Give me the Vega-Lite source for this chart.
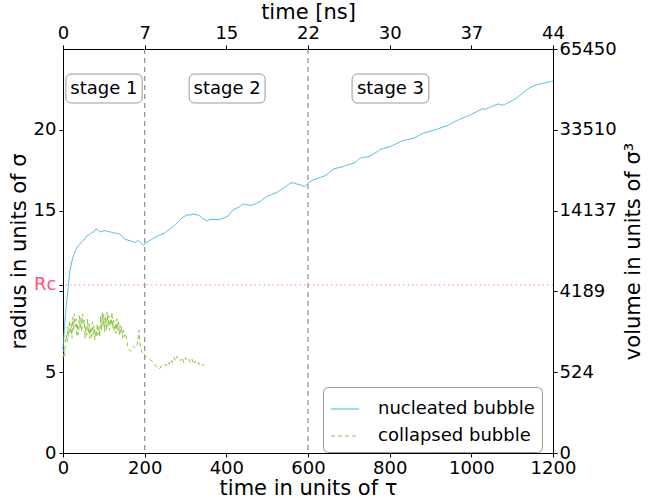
{
  "$schema": "https://vega.github.io/schema/vega-lite/v6.json",
  "width": 490,
  "height": 404,
  "autosize": {"type": "none"},
  "padding": {"left": 63, "top": 49, "right": 95, "bottom": 45},
  "background": "white",
  "config": {
    "font": "DejaVu Sans",
    "view": {"stroke": null},
    "axis": {"labelFont": "DejaVu Sans", "titleFont": "DejaVu Sans", "labelFontSize": 18, "titleFontSize": 21, "titleFontWeight": "normal", "labelColor": "black", "titleColor": "black", "domainColor": "black", "tickColor": "black", "grid": false, "labelOverlap": false, "labelFlush": false, "labelBound": false, "tickSize": 4}
  },
  "datasets": {
    "nucleated": [
      {"t":0,"r":6.4},{"t":3,"r":7.5},{"t":6,"r":8.6},{"t":10,"r":9.6},{"t":14,"r":10.6},{"t":17,"r":11.3},{"t":21,"r":11.8},{"t":25,"r":12.15},{"t":29,"r":12.45},{"t":33,"r":12.67},{"t":40,"r":12.9},{"t":46,"r":13.08},{"t":52,"r":13.2},{"t":58,"r":13.43},{"t":64,"r":13.5},{"t":70,"r":13.63},{"t":76,"r":13.7},{"t":81,"r":13.88},{"t":86,"r":13.78},{"t":90,"r":13.68},{"t":96,"r":13.74},{"t":103,"r":13.76},{"t":110,"r":13.7},{"t":117,"r":13.68},{"t":123,"r":13.63},{"t":130,"r":13.6},{"t":139,"r":13.55},{"t":146,"r":13.4},{"t":152,"r":13.22},{"t":158,"r":13.18},{"t":164,"r":13.14},{"t":170,"r":13.08},{"t":176,"r":13.01},{"t":180,"r":13.1},{"t":184,"r":13.14},{"t":190,"r":13.0},{"t":197,"r":12.87},{"t":203,"r":13.0},{"t":209,"r":13.08},{"t":216,"r":13.2},{"t":222,"r":13.3},{"t":229,"r":13.39},{"t":236,"r":13.48},{"t":243,"r":13.55},{"t":250,"r":13.63},{"t":257,"r":13.78},{"t":264,"r":13.9},{"t":270,"r":14.0},{"t":278,"r":14.2},{"t":286,"r":14.42},{"t":292,"r":14.55},{"t":299,"r":14.67},{"t":306,"r":14.75},{"t":312,"r":14.72},{"t":319,"r":14.79},{"t":327,"r":14.74},{"t":335,"r":14.67},{"t":343,"r":14.5},{"t":352,"r":14.37},{"t":360,"r":14.45},{"t":368,"r":14.46},{"t":376,"r":14.44},{"t":384,"r":14.46},{"t":394,"r":14.55},{"t":405,"r":14.67},{"t":411,"r":14.9},{"t":417,"r":15.04},{"t":425,"r":15.15},{"t":433,"r":15.25},{"t":441,"r":15.41},{"t":449,"r":15.38},{"t":457,"r":15.33},{"t":466,"r":15.35},{"t":474,"r":15.45},{"t":482,"r":15.55},{"t":490,"r":15.7},{"t":499,"r":15.87},{"t":507,"r":15.95},{"t":515,"r":16.05},{"t":523,"r":16.11},{"t":531,"r":16.25},{"t":539,"r":16.38},{"t":547,"r":16.52},{"t":556,"r":16.69},{"t":564,"r":16.72},{"t":572,"r":16.65},{"t":580,"r":16.6},{"t":586,"r":16.55},{"t":592,"r":16.48},{"t":597,"r":16.6},{"t":601,"r":16.73},{"t":609,"r":16.85},{"t":617,"r":16.94},{"t":625,"r":17.0},{"t":633,"r":17.08},{"t":641,"r":17.14},{"t":650,"r":17.3},{"t":656,"r":17.45},{"t":662,"r":17.56},{"t":670,"r":17.62},{"t":678,"r":17.68},{"t":686,"r":17.72},{"t":694,"r":17.8},{"t":702,"r":17.86},{"t":711,"r":17.93},{"t":719,"r":18.05},{"t":727,"r":18.24},{"t":735,"r":18.28},{"t":743,"r":18.32},{"t":752,"r":18.38},{"t":760,"r":18.5},{"t":768,"r":18.62},{"t":776,"r":18.77},{"t":785,"r":18.85},{"t":793,"r":18.9},{"t":801,"r":18.95},{"t":809,"r":19.05},{"t":817,"r":19.15},{"t":825,"r":19.25},{"t":833,"r":19.33},{"t":841,"r":19.38},{"t":850,"r":19.43},{"t":858,"r":19.47},{"t":866,"r":19.58},{"t":874,"r":19.68},{"t":882,"r":19.78},{"t":890,"r":19.85},{"t":898,"r":19.9},{"t":907,"r":19.97},{"t":915,"r":20.03},{"t":923,"r":20.1},{"t":931,"r":20.18},{"t":940,"r":20.24},{"t":948,"r":20.35},{"t":956,"r":20.46},{"t":964,"r":20.56},{"t":972,"r":20.65},{"t":980,"r":20.74},{"t":988,"r":20.83},{"t":997,"r":20.92},{"t":1005,"r":21.02},{"t":1013,"r":21.12},{"t":1021,"r":21.22},{"t":1027,"r":21.3},{"t":1033,"r":21.27},{"t":1041,"r":21.35},{"t":1050,"r":21.45},{"t":1058,"r":21.52},{"t":1066,"r":21.6},{"t":1072,"r":21.55},{"t":1078,"r":21.53},{"t":1086,"r":21.62},{"t":1094,"r":21.73},{"t":1103,"r":21.84},{"t":1111,"r":21.98},{"t":1119,"r":22.13},{"t":1127,"r":22.3},{"t":1135,"r":22.45},{"t":1143,"r":22.6},{"t":1152,"r":22.71},{"t":1160,"r":22.78},{"t":1168,"r":22.83},{"t":1176,"r":22.88},{"t":1184,"r":22.93},{"t":1192,"r":22.97},{"t":1200,"r":23.02}
    ],
    "collapsed": [
      {"t":0,"r":5.9},{"t":2,"r":6.4},{"t":4,"r":6.0},{"t":6,"r":6.9},{"t":8,"r":7.3},{"t":10,"r":6.9},{"t":12,"r":7.8},{"t":14,"r":7.2},{"t":16,"r":8.2},{"t":18,"r":7.4},{"t":20,"r":8.0},{"t":22,"r":7.1},{"t":24,"r":8.4},{"t":26,"r":7.6},{"t":28,"r":8.6},{"t":30,"r":7.8},{"t":32,"r":8.3},{"t":34,"r":7.2},{"t":36,"r":8.0},{"t":38,"r":7.3},{"t":40,"r":8.5},{"t":42,"r":7.7},{"t":44,"r":8.4},{"t":46,"r":7.5},{"t":48,"r":8.6},{"t":50,"r":7.9},{"t":52,"r":8.2},{"t":54,"r":7.1},{"t":56,"r":7.9},{"t":58,"r":7.3},{"t":60,"r":8.3},{"t":62,"r":7.4},{"t":64,"r":8.0},{"t":66,"r":7.1},{"t":68,"r":7.8},{"t":70,"r":7.2},{"t":72,"r":8.1},{"t":74,"r":7.3},{"t":76,"r":7.9},{"t":78,"r":7.0},{"t":80,"r":7.6},{"t":82,"r":7.2},{"t":84,"r":8.0},{"t":86,"r":7.3},{"t":88,"r":7.8},{"t":90,"r":7.2},{"t":92,"r":8.5},{"t":94,"r":7.6},{"t":96,"r":8.7},{"t":98,"r":7.8},{"t":100,"r":8.6},{"t":102,"r":7.5},{"t":104,"r":8.4},{"t":106,"r":7.6},{"t":108,"r":8.7},{"t":110,"r":7.8},{"t":112,"r":8.5},{"t":114,"r":7.6},{"t":116,"r":8.3},{"t":118,"r":7.9},{"t":120,"r":8.7},{"t":122,"r":7.7},{"t":124,"r":8.2},{"t":126,"r":7.5},{"t":128,"r":8.0},{"t":130,"r":7.4},{"t":132,"r":8.3},{"t":134,"r":7.6},{"t":136,"r":8.1},{"t":138,"r":7.3},{"t":140,"r":7.9},{"t":142,"r":7.4},{"t":144,"r":7.8},{"t":146,"r":7.1},{"t":148,"r":7.6},{"t":150,"r":7.2},{"t":154,"r":7.4},{"t":158,"r":6.6},{"t":162,"r":6.4},{"t":166,"r":6.3},{"t":170,"r":6.5},{"t":174,"r":6.6},{"t":178,"r":6.5},{"t":182,"r":6.7},{"t":186,"r":7.6},{"t":188,"r":6.9},{"t":190,"r":6.5},{"t":194,"r":6.2},{"t":198,"r":6.2},{"t":202,"r":6.0},{"t":206,"r":5.9},{"t":212,"r":5.8},{"t":218,"r":5.7},{"t":224,"r":5.5},{"t":230,"r":5.3},{"t":236,"r":5.2},{"t":242,"r":5.4},{"t":248,"r":5.5},{"t":252,"r":5.4},{"t":256,"r":5.6},{"t":260,"r":5.5},{"t":264,"r":5.8},{"t":268,"r":5.6},{"t":272,"r":5.9},{"t":276,"r":5.7},{"t":280,"r":6.0},{"t":284,"r":5.8},{"t":288,"r":5.7},{"t":292,"r":5.9},{"t":296,"r":5.6},{"t":300,"r":5.9},{"t":304,"r":5.7},{"t":308,"r":5.8},{"t":312,"r":5.6},{"t":316,"r":5.8},{"t":320,"r":5.5},{"t":324,"r":5.7},{"t":328,"r":5.5},{"t":332,"r":5.6},{"t":336,"r":5.4},{"t":340,"r":5.5},{"t":344,"r":5.4},{"t":348,"r":5.5},{"t":352,"r":5.5}
    ]
  },
  "layer": [
    {
      "data": {"values": [{"t": 200}, {"t": 600}]},
      "mark": {"type": "rule", "color": "#8c8c8c", "strokeDash": [5, 4], "strokeWidth": 1.2},
      "encoding": {
        "x": {"field": "t", "type": "quantitative", "scale": {"domain": [0, 1200], "nice": false, "zero": false},
          "axis": {"orient": "top", "title": "time [ns]", "values": [0, 200, 400, 600, 800, 1000, 1200],
            "labelExpr": "datum.value==0?'0':datum.value==200?'7':datum.value==400?'15':datum.value==600?'22':datum.value==800?'30':datum.value==1000?'37':'44'",
            "labelPadding": 3, "titlePadding": 2}}
      }
    },
    {
      "data": {"values": [{"r": 10.4}]},
      "mark": {"type": "rule", "color": "#ff9db4", "strokeDash": [1.5, 3], "strokeWidth": 1.2},
      "encoding": {
        "y": {"field": "r", "type": "quantitative", "scale": {"domain": [0, 25], "nice": false, "zero": false},
          "axis": {"orient": "right", "title": "volume in units of σ³", "titleAngle": 270, "titleBaseline": "top", "values": [0, 5, 10, 15, 20, 25],
            "labelExpr": "format(round(4/3*PI*pow(datum.value,3)),'d')", "labelPadding": 2, "titlePadding": 6}}
      }
    },
    {
      "data": {"values": [
        {"stage": "stage 1", "x1": 7, "x2": 194, "y1": 21.66, "y2": 23.45, "xm": 100, "ym": 22.55},
        {"stage": "stage 2", "x1": 309, "x2": 495, "y1": 21.66, "y2": 23.45, "xm": 402, "ym": 22.55},
        {"stage": "stage 3", "x1": 708, "x2": 896, "y1": 21.66, "y2": 23.45, "xm": 802, "ym": 22.55}
      ]},
      "layer": [
        {
          "mark": {"type": "rect", "fill": "white", "stroke": "#999999", "strokeWidth": 1, "cornerRadius": 5},
          "encoding": {
            "x": {"field": "x1", "type": "quantitative", "axis": null},
            "x2": {"field": "x2"},
            "y": {"field": "y1", "type": "quantitative", "axis": null},
            "y2": {"field": "y2"}
          }
        },
        {
          "mark": {"type": "text", "fontSize": 18, "font": "DejaVu Sans", "color": "black", "baseline": "middle", "align": "center"},
          "encoding": {
            "x": {"field": "xm", "type": "quantitative", "axis": null},
            "y": {"field": "ym", "type": "quantitative", "axis": null},
            "text": {"field": "stage"}
          }
        }
      ]
    },
    {
      "layer": [
        {"data": {"name": "nucleated"}, "transform": [{"calculate": "'nucleated bubble'", "as": "series"}], "mark": {"type": "line", "strokeWidth": 1}},
        {"data": {"name": "collapsed"}, "transform": [{"calculate": "'collapsed bubble'", "as": "series"}], "mark": {"type": "line", "strokeWidth": 1}}
      ],
      "encoding": {
        "x": {"field": "t", "type": "quantitative", "scale": {"domain": [0, 1200], "nice": false, "zero": false},
          "axis": {"orient": "bottom", "title": "time in units of τ", "format": "d", "values": [0, 200, 400, 600, 800, 1000, 1200], "labelPadding": 2, "titlePadding": 0}},
        "y": {"field": "r", "type": "quantitative", "scale": {"domain": [0, 25], "nice": false, "zero": false},
          "axis": {"orient": "left", "title": "radius in units of σ", "values": [0, 5, 10, 10.4, 15, 20],
            "labelExpr": "datum.value==10.4 ? 'Rc' : datum.value==10 ? '' : datum.label",
            "labelColor": {"condition": {"test": "datum.value==10.4", "value": "#ff4f7b"}, "value": "black"},
            "labelPadding": 3, "titlePadding": 4}},
        "color": {"field": "series", "type": "nominal",
          "scale": {"domain": ["nucleated bubble", "collapsed bubble"], "range": ["#3fb5e8", "#8cc63f"]},
          "legend": {"orient": "none", "legendX": 260, "legendY": 338, "title": null, "labelFontSize": 18, "labelFont": "DejaVu Sans", "symbolType": "stroke", "symbolSize": 800, "symbolStrokeWidth": 1.2, "labelOffset": 18, "padding": 7, "rowPadding": 3, "strokeColor": "#999999", "fillColor": "white", "cornerRadius": 5}},
        "strokeDash": {"field": "series", "type": "nominal",
          "scale": {"domain": ["nucleated bubble", "collapsed bubble"], "range": [[1, 0], [4, 3]]},
          "legend": {"orient": "none", "legendX": 260, "legendY": 338, "title": null, "labelFontSize": 18, "labelFont": "DejaVu Sans", "symbolType": "stroke", "symbolSize": 800, "symbolStrokeWidth": 1.2, "labelOffset": 18, "padding": 7, "rowPadding": 3, "strokeColor": "#999999", "fillColor": "white", "cornerRadius": 5}}
      }
    }
  ],
  "resolve": {"axis": {"x": "independent", "y": "independent"}}
}
